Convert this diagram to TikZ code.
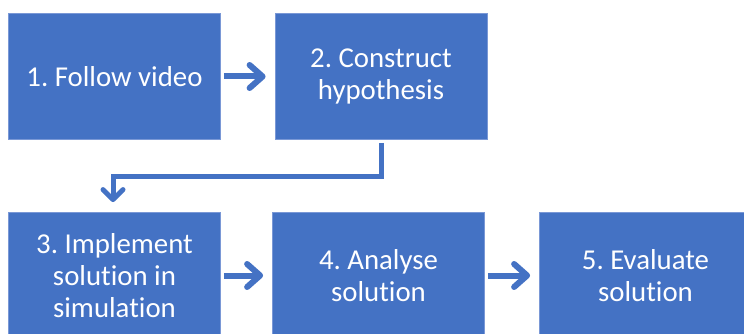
\documentclass[tikz,border=0pt]{standalone}
\usepackage{fontspec}
\setmainfont{Carlito}[Ligatures=NoCommon]
\usetikzlibrary{positioning,arrows.meta}
\definecolor{stepblue}{HTML}{4472C4}
\definecolor{stepedge}{HTML}{7A98D6}
\frenchspacing
\begin{document}
\begin{tikzpicture}[
  x=1pt, y=-1pt,
  stepbox/.style={rectangle, draw=stepedge, fill=stepblue, line width=0.8pt,
    minimum width=212pt, minimum height=126pt, inner sep=0pt,
    text=white, align=center, font=\fontsize{28.8}{32}\selectfont},
  flow/.style={draw=stepblue, line width=6pt, shorten <=3pt, shorten >=9pt,
    -{Straight Barb[length=13pt, width=23pt, line cap=round, line join=round]}},
  node distance=266pt
]
\useasboundingbox (0,0) rectangle (744,334);
% Top row
\node[stepbox] at (114.5,76.5) (follow) {1. Follow video};
\node[stepbox, right of=follow, node distance=266.5pt] (hypo) {2. Construct\\hypothesis};

% Bottom row
\node[stepbox, below of=follow, node distance=199pt] (impl) {3. Implement\\solution in\\simulation};
\node[stepbox, right of=impl, node distance=264pt] (analyse) {4. Analyse\\solution};
\node[stepbox, right of=analyse, node distance=267pt] (evaluate) {5. Evaluate\\solution};

% Connections
\draw[flow] (follow) -- (hypo);
\draw[flow, line width=5pt, shorten >=10pt, line join=miter,
  -{Straight Barb[length=10pt, width=20pt, line cap=round, line join=round]}]
  (hypo.south) -- ++(0,37) -| ([xshift=-1.5pt]impl.north);
\draw[flow] (impl) -- (analyse);
\draw[flow] (analyse) -- (evaluate);
\end{tikzpicture}
\end{document}
